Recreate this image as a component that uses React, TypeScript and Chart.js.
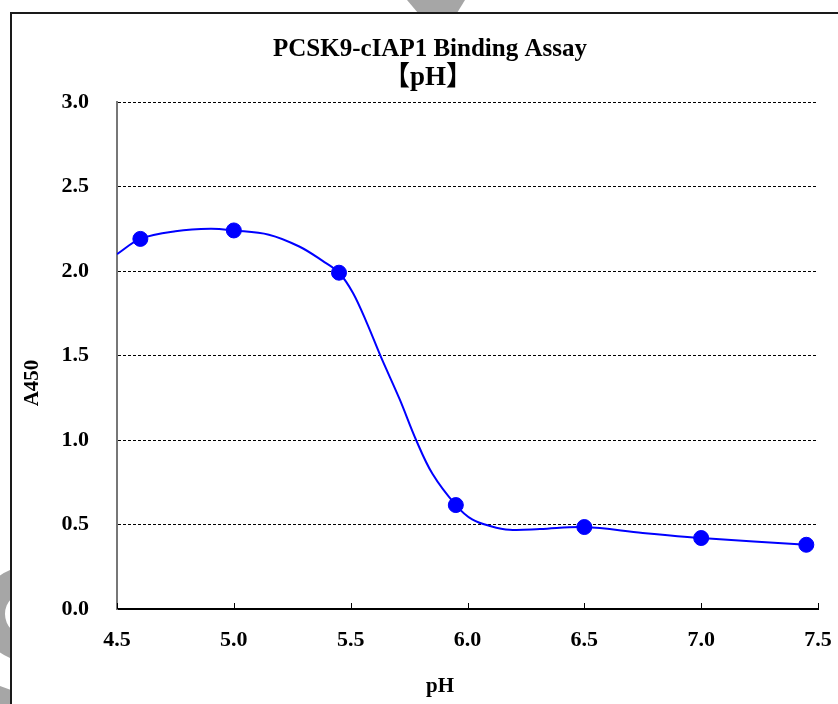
import React, { useEffect, useRef } from "react";
import { Chart, registerables } from "chart.js";

Chart.register(...registerables);

// Measured points (pH, A450)
const phValues = [4.6, 5.0, 5.45, 5.95, 6.5, 7.0, 7.45];
const a450Values = [2.19, 2.24, 1.99, 0.615, 0.485, 0.42, 0.38];

// Fitted curve
const curvePh = [4.5, 4.6, 4.75, 4.9, 5.0, 5.15, 5.28, 5.38, 5.45, 5.51, 5.57, 5.63, 5.71, 5.78, 5.85, 5.95, 6.02, 6.1, 6.18, 6.31, 6.5, 6.75, 7.0, 7.45];
const curveA450 = [2.1, 2.19, 2.235, 2.25, 2.24, 2.215, 2.145, 2.06, 1.99, 1.87, 1.69, 1.49, 1.24, 1.0, 0.8, 0.615, 0.53, 0.49, 0.469, 0.473, 0.485, 0.45, 0.42, 0.38];

const xTicks = [4.5, 5.0, 5.5, 6.0, 6.5, 7.0, 7.5];
const yTicks = [0.0, 0.5, 1.0, 1.5, 2.0, 2.5, 3.0];

const titleLines = ["PCSK9-cIAP1 Binding Assay", "【pH】"];
const xTitle = "pH";
const yTitle = "A450";

const SERIF = '"Liberation Serif", "Times New Roman", "Noto Sans CJK JP", serif';

const decorPlugin = {
  id: "decor",
  beforeDraw(chart: any) {
    const ctx = chart.ctx;
    ctx.save();
    ctx.fillStyle = "#ffffff";
    ctx.fillRect(0, 0, chart.width, chart.height);
    // gray watermark pieces
    ctx.fillStyle = "#a6a6a6";
    ctx.beginPath();
    ctx.moveTo(407, 0);
    ctx.lineTo(465, 0);
    ctx.lineTo(457, 13);
    ctx.lineTo(418, 13);
    ctx.closePath();
    ctx.fill();
    ctx.save();
    ctx.beginPath();
    ctx.rect(0, 0, 11, chart.height);
    ctx.clip();
    ctx.beginPath();
    ctx.arc(27, 614, 47, 0, Math.PI * 2);
    ctx.arc(27, 614, 22, 0, Math.PI * 2, true);
    ctx.fill("evenodd");
    ctx.beginPath();
    ctx.moveTo(0, 686);
    ctx.lineTo(11, 690);
    ctx.lineTo(11, 704);
    ctx.lineTo(0, 704);
    ctx.closePath();
    ctx.fill();
    ctx.restore();
    // frame
    ctx.strokeStyle = "#1a1a1a";
    ctx.lineWidth = 2;
    ctx.beginPath();
    ctx.moveTo(11, chart.height);
    ctx.lineTo(11, 13);
    ctx.lineTo(chart.width, 13);
    ctx.stroke();
    ctx.restore();
  },
  afterDraw(chart: any) {
    const ctx = chart.ctx;
    const xs = chart.scales.x;
    const area = chart.chartArea;
    ctx.save();
    // inward ticks on x axis
    ctx.strokeStyle = "#000";
    ctx.lineWidth = 1;
    xTicks.forEach((v) => {
      const px = Math.round(xs.getPixelForValue(v)) + 0.5;
      ctx.beginPath();
      ctx.moveTo(px, area.bottom);
      ctx.lineTo(px, area.bottom - 6);
      ctx.stroke();
    });
    ctx.fillStyle = "#000";
    ctx.textAlign = "center";
    ctx.textBaseline = "middle";
    ctx.font = `bold 25px ${SERIF}`;
    ctx.fillText(titleLines[0], 430, 50);
    ctx.font = `bold 27px ${SERIF}`;
    ctx.fillText(titleLines[1], 428, 78);
    ctx.font = `bold 21px ${SERIF}`;
    ctx.fillText(xTitle, 440, 687);
    ctx.translate(33, 383);
    ctx.rotate(-Math.PI / 2);
    ctx.fillText(yTitle, 0, 0);
    ctx.restore();
  },
};

export default function App() {
  const ref = useRef<HTMLCanvasElement | null>(null);
  useEffect(() => {
    if (!ref.current) return;
    const chart = new Chart(ref.current, {
      type: "scatter",
      data: {
        datasets: [
          {
            label: "points",
            data: phValues.map((x, i) => ({ x, y: a450Values[i] })),
            backgroundColor: "#0000ff",
            borderColor: "#0000ff",
            pointRadius: 7.5,
            pointHoverRadius: 7.5,
            showLine: false,
            order: 0,
          },
          {
            label: "fit",
            data: curvePh.map((x, i) => ({ x, y: curveA450[i] })),
            borderColor: "#0000ff",
            backgroundColor: "#0000ff",
            borderWidth: 2,
            pointRadius: 0,
            showLine: true,
            tension: 0.35,
            order: 1,
          },
        ],
      },
      options: {
        responsive: false,
        animation: false,
        events: [],
        layout: { padding: { left: 0, right: 0, top: 102, bottom: 0 } },
        plugins: {
          legend: { display: false },
          title: { display: false },
          tooltip: { enabled: false },
        },
        scales: {
          x: {
            type: "linear",
            min: 4.5,
            max: 7.5,
            afterBuildTicks: (scale: any) => {
              scale.ticks = xTicks.map((v) => ({ value: v }));
            },
            afterFit: (scale: any) => {
              scale.height = 95;
              scale.paddingRight = 20;
              scale.paddingLeft = 0;
            },
            grid: { display: false, drawTicks: false },
            border: { display: true, color: "#000", width: 2 },
            ticks: {
              padding: 18,
              color: "#000",
              font: { family: SERIF, size: 22, weight: "bold" },
              callback: (v: any) => Number(v).toFixed(1),
            },
          },
          y: {
            type: "linear",
            min: 0,
            max: 3,
            afterBuildTicks: (scale: any) => {
              scale.ticks = yTicks.map((v) => ({ value: v }));
            },
            afterFit: (scale: any) => {
              scale.width = 117;
            },
            grid: {
              drawTicks: false,
              color: (c: any) => (c.tick && c.tick.value === 0 ? "rgba(0,0,0,0)" : "#000"),
              lineWidth: 1,
            },
            border: { display: true, color: "#777", width: 2, dash: [3, 2] },
            ticks: {
              padding: 28,
              color: "#000",
              font: { family: SERIF, size: 22, weight: "bold" },
              callback: (v: any) => Number(v).toFixed(1),
            },
          },
        },
      },
      plugins: [decorPlugin],
    } as any);
    return () => chart.destroy();
  }, []);
  return (
    <div style={{ position: "absolute", left: 0, top: 0, width: 838, height: 704 }}>
      <canvas ref={ref} width={838} height={704} style={{ display: "block", width: 838, height: 704 }} />
    </div>
  );
}
